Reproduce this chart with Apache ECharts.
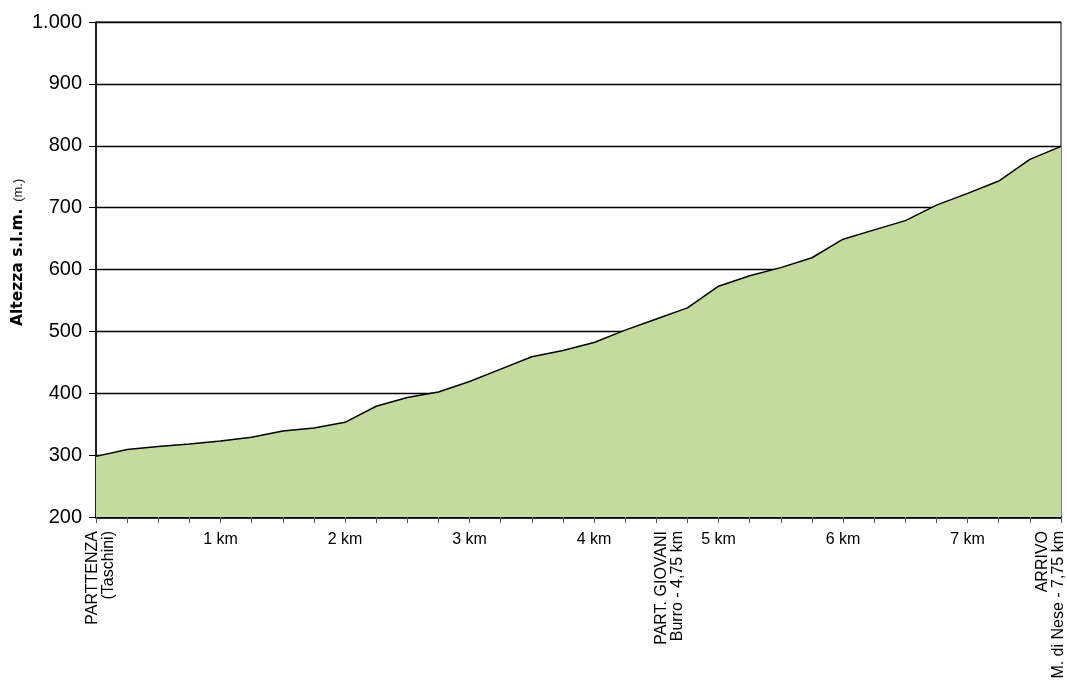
<!DOCTYPE html>
<html>
<head>
<meta charset="utf-8">
<script src="https://cdn.jsdelivr.net/npm/echarts@6/dist/echarts.min.js"></script>
<style>
  html, body { margin: 0; padding: 0; background: #ffffff; }
  #chart { width: 1067px; height: 680px; }
</style>
</head>
<body>
<div id="chart"></div>
<script>
// Distance along the route (km) and altitude (m)
const distanceKm = [0, 0.25, 0.5, 0.75, 1, 1.25, 1.5, 1.75, 2, 2.25, 2.5, 2.75, 3, 3.25, 3.5, 3.75,
                    4, 4.25, 4.5, 4.75, 5, 5.25, 5.5, 5.75, 6, 6.25, 6.5, 6.75, 7, 7.25, 7.5, 7.75];
const altitude = [298, 309, 314, 318, 323, 329, 339, 344, 353, 379, 393, 402, 419, 439, 459, 469,
                  482, 502, 520, 538, 573, 590, 603, 619, 649, 664, 679, 704, 723, 743, 778, 799];

// Horizontal km tick labels
const kmLabelValues = [1, 2, 3, 4, 5, 6, 7];
const kmLabelTexts = ['1 km', '2 km', '3 km', '4 km', '5 km', '6 km', '7 km'];

// Vertical place labels
const placeKm = [0, 4.75, 7.75];
const placeNames = ['PARTTENZA\n(Taschini)', 'PART. GIOVANI\nBurro - 4,75 km', 'ARRIVO\nM. di Nese - 7,75 km'];

// Y axis tick labels
const yTickValues = [200, 300, 400, 500, 600, 700, 800, 900, 1000];
const yTickTexts = ['200', '300', '400', '500', '600', '700', '800', '900', '1.000'];

const FONT = '"Liberation Sans", Arial, Helvetica, sans-serif';

const chart = echarts.init(document.getElementById('chart'), null, { renderer: 'canvas' });

const option = {
  animation: false,
  backgroundColor: '#ffffff',
  grid: { left: 96, right: 6, top: 22, bottom: 163, show: true, borderColor: '#000', borderWidth: 1, backgroundColor: 'transparent' },
  xAxis: {
    type: 'value',
    min: 0,
    max: 7.75,
    interval: 0.25,
    axisLine: { show: true, lineStyle: { color: '#000', width: 2.5 } },
    axisTick: { show: true, length: 6, lineStyle: { color: '#555', width: 1 } },
    splitLine: { show: false },
    axisLabel: {
      margin: 15,
      color: '#000',
      fontFamily: FONT,
      fontSize: 16,
      showMinLabel: true,
      showMaxLabel: true,
      formatter: function (v) {
        for (let i = 0; i < kmLabelValues.length; i++) {
          if (Math.abs(v - kmLabelValues[i]) < 1e-6) return kmLabelTexts[i];
        }
        return '';
      }
    }
  },
  yAxis: {
    type: 'value',
    min: 200,
    max: 1000,
    interval: 100,
    axisLine: { show: true, lineStyle: { color: '#000', width: 1.5 } },
    axisTick: { show: true, inside: false, length: 7, lineStyle: { color: '#000', width: 1 } },
    splitLine: { show: true, lineStyle: { color: '#000', width: 1.4 } },
    axisLabel: {
      margin: 14,
      color: '#000',
      fontFamily: FONT,
      fontSize: 20,
      formatter: function (v) {
        const i = yTickValues.indexOf(v);
        return i >= 0 ? yTickTexts[i] : '';
      }
    }
  },
  series: [{
    type: 'line',
    data: distanceKm.map((d, i) => [d, altitude[i]]),
    symbol: 'none',
    smooth: false,
    lineStyle: { color: '#000', width: 1.5 },
    areaStyle: { color: '#c4dba0', opacity: 1, origin: 'start' },
    z: 3
  }]
};

chart.setOption(option);

// Vertical place labels below the axis, anchored with the x scale
const placeShift = [5, -18, -10];
const placeFont = [16, 16, 16];
const axisBottomY = chart.convertToPixel({ yAxisIndex: 0 }, 200);
const graphics = placeKm.map((k, i) => ({
  type: 'text',
  x: chart.convertToPixel({ xAxisIndex: 0 }, k) + placeShift[i],
  y: axisBottomY + 14,
  rotation: Math.PI / 2,
  style: {
    text: placeNames[i],
    font: placeFont[i] + 'px ' + FONT,
    fill: '#000',
    align: 'right',
    verticalAlign: 'middle',
    lineHeight: 16
  },
  silent: true
}));

// Y axis title
graphics.push({
  type: 'text',
  x: 18,
  y: 326,
  rotation: Math.PI / 2,
  style: {
    text: '{b|Altezza s.l.m.}  {n|(m.)}',
    align: 'left',
    verticalAlign: 'middle',
    rich: {
      b: { fontFamily: '"DejaVu Sans", sans-serif', fontWeight: 'bold', fontSize: 15.5, fill: '#000' },
      n: { fontFamily: FONT, fontSize: 13, fill: '#222' }
    }
  },
  silent: true
});

chart.setOption({ graphic: graphics });
</script>
</body>
</html>
